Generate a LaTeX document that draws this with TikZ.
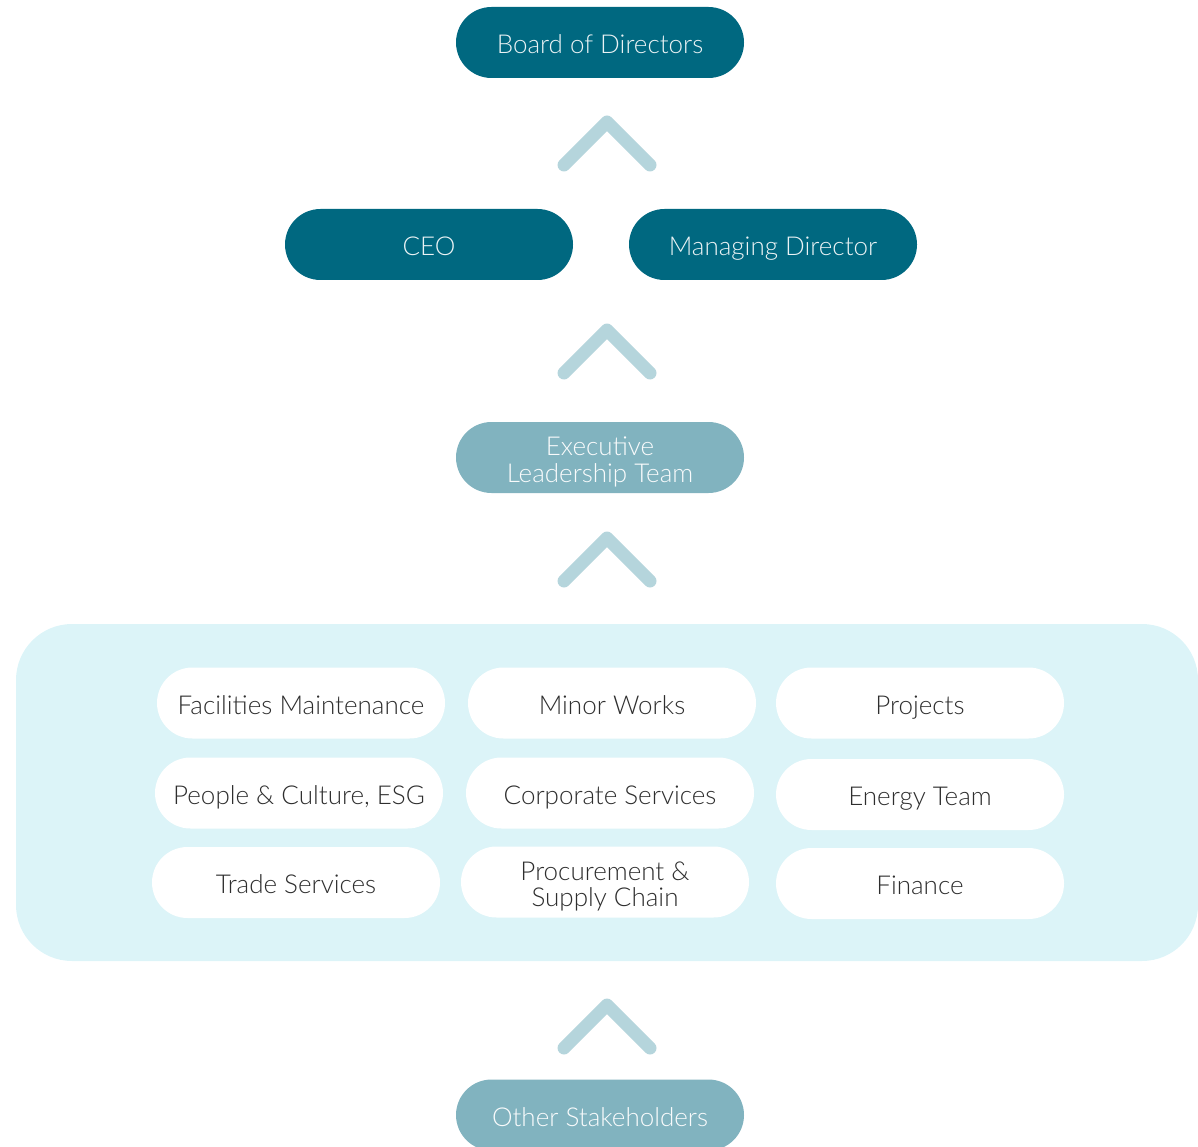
\documentclass[tikz,border=0pt]{standalone}
\usepackage{fontspec}
\setmainfont{Lato Light}
\usetikzlibrary{shapes.misc}
\definecolor{darkteal}{HTML}{006880}
\definecolor{midteal}{HTML}{81B3BF}
\definecolor{chev}{HTML}{B5D5DC}
\definecolor{panel}{HTML}{DCF4F8}
\definecolor{txt}{HTML}{2E2E2E}
\newcommand{\twolines}[2]{\raisebox{0pt}[\height][\dimexpr\depth-12pt\relax]{\begin{tabular}{@{}c@{}}#1\\#2\end{tabular}}}
\begin{document}
\begin{tikzpicture}[x=1pt,y=-1pt,
  pill/.style={rounded rectangle, minimum width=288pt, minimum height=71pt, inner sep=0pt,
    align=center, font=\fontsize{26}{26}\selectfont},
  oneline/.style={text height=26pt, text depth=4pt},
  darkpill/.style={pill, oneline, fill=darkteal, text=white!92!darkteal},
  midpill/.style={pill, fill=midteal, text=white!95!midteal},
  whitepill/.style={pill, fill=white, text=txt},
  chevron/.style={draw=chev, line width=13pt, line cap=round, line join=round}]
\useasboundingbox (0,0) rectangle (1198,1147);
\clip (0,0) rectangle (1198,1147);
% panel
\fill[panel, rounded corners=56pt] (16,624) rectangle (1198,961);
% top levels
\node[darkpill] (board) at (600,42.5) {Board of Directors};
\node[darkpill] (ceo) at (429,244.5) {CEO};
\node[darkpill] (md) at (773,244.5) {Managing Director};
\node[midpill] (elt) at (600,457.5) {\twolines{Executive}{Leadership Team}};
% departments
\node[whitepill, oneline] (fm) at (301,703) {Facilities Maintenance};
\node[whitepill, oneline] (mw) at (612,703) {Minor Works};
\node[whitepill, oneline] (pr) at (920,703) {Projects};
\node[whitepill, oneline] (pc) at (299,793) {People \& Culture, ESG};
\node[whitepill, oneline] (cs) at (610,793) {Corporate Services};
\node[whitepill, oneline] (et) at (920,794.5) {Energy Team};
\node[whitepill, oneline] (ts) at (296,882.5) {Trade Services};
\node[whitepill] (ps) at (605,882) {\twolines{Procurement \&}{Supply Chain}};
\node[whitepill, oneline] (fi) at (920,883.5) {Finance};
% bottom
\node[midpill, oneline] (os) at (600,1115) {Other Stakeholders};
% chevrons
\foreach \y in {122,330,538,1005}{
  \draw[chevron] (564,\y+43) -- (607,\y) -- (650,\y+43);
}
\end{tikzpicture}
\end{document}
